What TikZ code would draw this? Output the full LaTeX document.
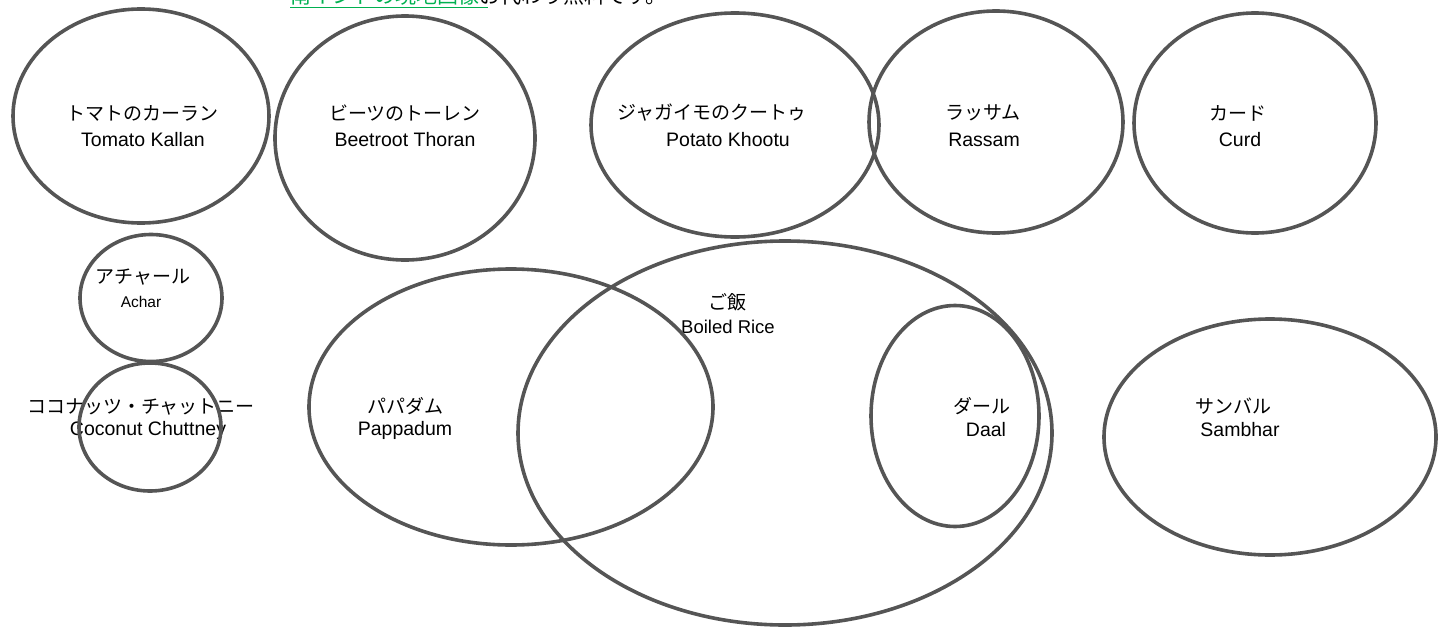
\documentclass[tikz,border=0pt]{standalone}
\usepackage{fontspec}
\setmainfont{Liberation Sans}
\newfontfamily\jp{Noto Sans CJK JP}
\usetikzlibrary{shapes.geometric}
\definecolor{ringgray}{RGB}{85,85,85}
\definecolor{linkgreen}{RGB}{0,176,80}
\tikzset{
  blob/.style={draw=ringgray, line width=3.6pt, ellipse, inner sep=0pt},
  jlab/.style={font=\jp\fontsize{19}{22}\selectfont, inner sep=0pt},
  elab/.style={font=\fontsize{19.5}{22}\selectfont, inner sep=0pt},
  slab/.style={font=\fontsize{15.5}{18}\selectfont, inner sep=0pt},
}
\begin{document}
\begin{tikzpicture}[x=1pt,y=-1pt]
\useasboundingbox (0,0) rectangle (1443,629);
% top cut-off line of text
\node[anchor=base west, inner sep=0pt, font=\jp\fontsize{21}{24}\selectfont] (note) at (290,4)
  {\textcolor{linkgreen}{南インドの現地画像}お代わり無料です。};
\draw[linkgreen, line width=1.6pt] (290,7.5) -- (488,7.5);
% labels
\node[jlab] (t1) at (142,113) {トマトのカーラン};
\node[elab] (e1) at (143,140) {Tomato Kallan};
\node[jlab] (t2) at (405,113) {ビーツのトーレン};
\node[elab] (e2) at (405,140) {Beetroot Thoran};
\node[jlab] (t3) at (712,113) {ジャガイモのクートゥ};
\node[elab] (e3) at (728,140) {Potato Khootu};
\node[jlab] (t4) at (983,113) {ラッサム};
\node[elab] (e4) at (984,140) {Rassam};
\node[jlab] (t5) at (1238,113) {カード};
\node[elab] (e5) at (1240,140) {Curd};
\node[jlab] (t6) at (143,277) {アチャール};
\node[slab] (e6) at (141,302) {Achar};
\node[jlab] (t7) at (141,407) {ココナッツ・チャットニー};
\node[elab] (e7) at (148,430) {Coconut Chuttney};
\node[jlab] (t8) at (727,302) {ご飯};
\node[elab,font=\fontsize{18.5}{21}\selectfont] (e8) at (728,327) {Boiled Rice};
\node[jlab] (t9) at (405,406) {パパダム};
\node[elab] (e9) at (405,430) {Pappadum};
\node[jlab] (t10) at (982,406) {ダール};
\node[elab] (e10) at (986,430) {Daal};
\node[jlab] (t11) at (1233,406) {サンバル};
\node[elab] (e11) at (1240,430) {Sambhar};
% ellipses
\node[blob, minimum width=256pt, minimum height=214pt] (tomato) at (141,116) {};
\node[blob, minimum width=260pt, minimum height=244pt] (beet) at (405,138) {};
\node[blob, minimum width=288pt, minimum height=224pt] (potato) at (735,125) {};
\node[blob, minimum width=254pt, minimum height=222pt] (rassam) at (996,122) {};
\node[blob, minimum width=242pt, minimum height=220pt] (curd) at (1255,123) {};
\node[blob, minimum width=142pt, minimum height=127pt] (achar) at (151,298) {};
\node[blob, minimum width=142pt, minimum height=128pt] (coco) at (150,427) {};
\node[blob, minimum width=404pt, minimum height=276pt] (papp) at (511,407) {};
\node[blob, minimum width=534pt, minimum height=384pt] (rice) at (785,433) {};
\node[blob, minimum width=168pt, minimum height=221pt] (daal) at (955,416) {};
\node[blob, minimum width=332pt, minimum height=236pt] (samb) at (1270,437) {};
\end{tikzpicture}
\end{document}
